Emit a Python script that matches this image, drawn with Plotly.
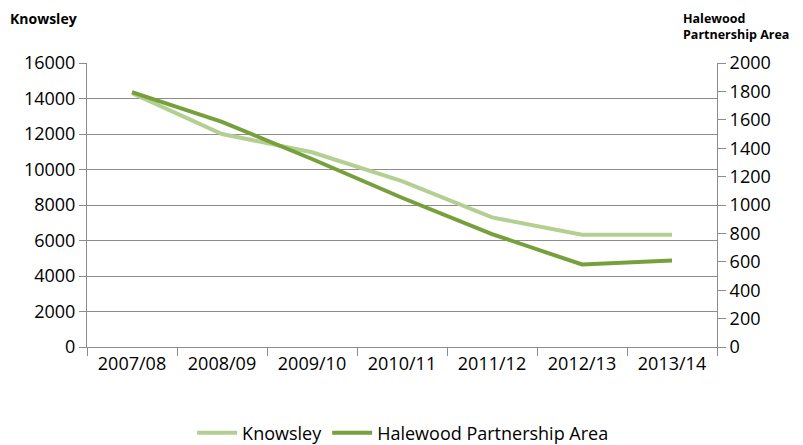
import plotly.graph_objects as go

years = ["2007/08", "2008/09", "2009/10", "2010/11", "2011/12", "2012/13", "2013/14"]
knowsley = [14300, 12000, 10970, 9350, 7300, 6320, 6320]
halewood = [1795, 1585, 1324, 1051, 795, 581, 610]

FONT = "Open Sans, Liberation Sans, sans-serif"
GRID = "#8c8c8c"

# page body has an 8px default margin; figure is sized to fit the window
W, H = 795, 437
L, T, PW, PH = 79, 55, 630, 284
R = W - L - PW
B = H - T - PH

fig = go.Figure()
fig.add_trace(go.Scatter(x=years, y=knowsley, name="Knowsley", mode="lines",
                         line=dict(color="#b3cf92", width=4)))
fig.add_trace(go.Scatter(x=years, y=halewood, name="Halewood Partnership Area", mode="lines",
                         line=dict(color="#77a03c", width=4), yaxis="y2"))

fig.update_layout(
    width=W, height=H,
    margin=dict(l=L, r=R, t=T, b=B, autoexpand=False),
    paper_bgcolor="white", plot_bgcolor="white",
    font=dict(family=FONT, size=18, color="#000000"),
    showlegend=True,
    legend=dict(orientation="h", x=0.497, xanchor="center", xref="container",
                y=(H - 425) / H, yanchor="middle", yref="container",
                font=dict(size=18), itemwidth=40, tracegroupgap=0),
    xaxis=dict(type="category", tickson="boundaries", ticks="outside", ticklen=8,
               tickcolor=GRID, showline=True, linecolor=GRID, linewidth=1,
               showgrid=False, range=[-0.5, 6.5], automargin=False),
    yaxis=dict(range=[0, 16000], dtick=2000, tickformat="d", ticks="outside", ticklen=7,
               tickcolor=GRID, showline=True, linecolor=GRID, showgrid=True,
               gridcolor=GRID, gridwidth=1, zeroline=False, automargin=False),
    yaxis2=dict(range=[0, 2000], dtick=200, tickformat="d", overlaying="y", side="right",
                ticks="outside", ticklen=8, tickcolor=GRID, showline=True, linecolor=GRID,
                showgrid=False, zeroline=False, automargin=False),
    annotations=[
        dict(text="<b>Knowsley</b>", xref="paper", yref="paper",
             x=(0 - L) / PW, y=(T + PH - 10) / PH,
             xanchor="left", yanchor="middle", showarrow=False, font=dict(size=14)),
        dict(text="<b>Halewood<br>Partnership Area</b>", xref="paper", yref="paper",
             x=(673 - L) / PW, y=(T + PH - 19) / PH, xanchor="left", yanchor="middle",
             align="left", showarrow=False, font=dict(size=12.5)),
    ],
)

fig.write_html("out.html")
